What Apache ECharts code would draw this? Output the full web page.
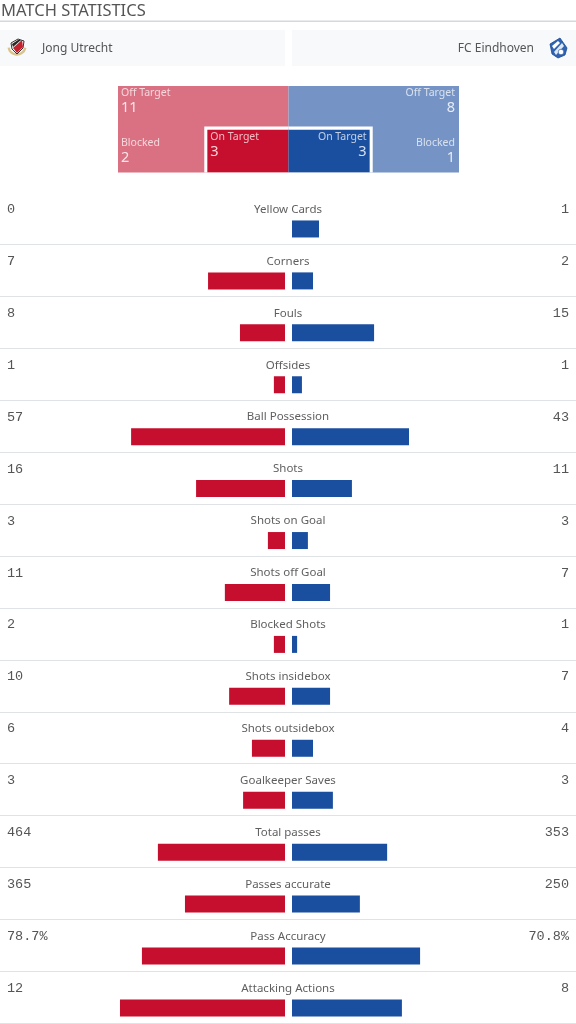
<!DOCTYPE html>
<html><head><meta charset="utf-8">
<style>html,body{margin:0;padding:0;background:#fff;overflow:hidden;height:1024px}#c{width:576px;height:1060px}</style>
<script src="https://cdn.jsdelivr.net/npm/echarts@6/dist/echarts.min.js"></script>
</head><body><div id="c"></div>
<script>
// ---- data ----
const title = 'MATCH STATISTICS';
const homeTeam = 'Jong Utrecht';
const awayTeam = 'FC Eindhoven';
const statNames = ['Yellow Cards','Corners','Fouls','Offsides','Ball Possession','Shots','Shots on Goal','Shots off Goal','Blocked Shots','Shots insidebox','Shots outsidebox','Goalkeeper Saves','Total passes','Passes accurate','Pass Accuracy','Attacking Actions'];
const homeValues = ['0','7','8','1','57','16','3','11','2','10','6','3','464','365','78.7%','12'];
const awayValues = ['1','2','15','1','43','11','3','7','1','7','4','3','353','250','70.8%','8'];
// bar length as % of the half row
const homeBars = [0,27.0,15.8,3.9,54.0,31.2,6.0,21.1,3.9,19.6,11.6,14.7,44.6,35.1,50.2,57.9];
const awayBars = [9.5,7.4,28.9,3.5,41.2,21.1,5.6,13.4,1.8,13.4,7.4,14.4,33.5,23.9,45.1,38.7];
// shot map
const zoneRows = ['Outer','Inner'];
const homeOffTarget = 11, homeBlocked = 2, homeOnTarget = 3;
const awayOffTarget = 8, awayBlocked = 1, awayOnTarget = 3;
const onTargetShare = 47.6;   // % of each side's half
const onTargetFrame = 49.4;

// ---- styles ----
const RED='#c60f2e', BLUE='#1a4fa0', PINK='#da7183', LBLUE='#7594c5';
const UI='"Noto Sans","Open Sans",sans-serif';
const MONO='"Liberation Mono",monospace';
const PITCH=51.93, N=statNames.length;
const rowsH=PITCH*N;
const hidden={show:false};
const grid=(l,r,t,h)=>({left:l,right:r,top:t,height:h});

function zoneLabel(name,val,left){
  return {show:true,formatter:`{a|${name}}\n{b|${val}}`,
    rich:{a:{fontFamily:UI,fontSize:10.5,color:'rgba(255,255,255,.72)',lineHeight:14,align:left?'left':'right'},
          b:{fontFamily:UI,fontSize:14.5,color:'rgba(255,255,255,.82)',lineHeight:16,align:left?'left':'right'}}};
}
const zoneY=(i)=>({type:'category',gridIndex:0,data:zoneRows,inverse:true,show:false,axisTick:hidden});

const option={
  animation:false,
  grid:[
    grid(118,117,86,86.5),                 // shot map
    grid(0,291,203,rowsH),                 // home bars
    grid(292,0,203,rowsH),                 // away bars
    grid(0,0,183.5,rowsH),                 // text rows
    grid(0,0,192.5,rowsH)                  // separators
  ],
  xAxis:[
    {gridIndex:0,type:'value',min:-100,max:100,show:false},
    {gridIndex:1,type:'value',min:0,max:100,inverse:true,show:false},
    {gridIndex:2,type:'value',min:0,max:100,show:false},
    {gridIndex:3,type:'value',min:0,max:1,show:false},
    {gridIndex:4,type:'value',min:0,max:1,show:false}
  ],
  yAxis:[
    zoneY(),zoneY(),zoneY(),
    {gridIndex:1,type:'category',data:statNames,inverse:true,show:false},
    {gridIndex:2,type:'category',data:statNames,inverse:true,show:false},
    {gridIndex:3,type:'category',data:homeValues,inverse:true,position:'left',axisLine:hidden,axisTick:hidden,
      axisLabel:{inside:true,margin:7,color:'#555',fontFamily:MONO,fontSize:13.5,hideOverlap:false,interval:0}},
    {gridIndex:3,type:'category',data:awayValues,inverse:true,position:'right',axisLine:hidden,axisTick:hidden,
      axisLabel:{inside:true,margin:7,color:'#555',fontFamily:MONO,fontSize:13.5,hideOverlap:false,interval:0}},
    {gridIndex:3,type:'category',data:statNames,inverse:true,position:'left',axisLine:hidden,axisTick:hidden,
      axisLabel:{inside:true,margin:288,align:'center',color:'#5f5f5f',fontFamily:UI,fontSize:11.5,hideOverlap:false,interval:0}},
    {gridIndex:4,type:'category',data:statNames,inverse:true,axisLine:hidden,axisTick:hidden,axisLabel:hidden,
      splitLine:{show:true,showMinLine:false,interval:0,lineStyle:{color:'#e0e3e6',width:1.2}}}
  ],
  series:[
    // outer zones
    {type:'bar',xAxisIndex:0,yAxisIndex:0,stack:'o',barWidth:'102%',itemStyle:{color:PINK},z:2,
     data:[{value:-100,label:{...zoneLabel('Off Target',homeOffTarget,true),position:'insideTopLeft',distance:0,offset:[3,0]}},
           {value:-100,label:{...zoneLabel('Blocked',homeBlocked,true),position:'insideLeft',distance:3}}]},
    {type:'bar',xAxisIndex:0,yAxisIndex:0,stack:'o',barWidth:'102%',itemStyle:{color:LBLUE},z:2,
     data:[{value:100,label:{...zoneLabel('Off Target',awayOffTarget,false),position:'insideTopRight',distance:0,offset:[-4,0]}},
           {value:100,label:{...zoneLabel('Blocked',awayBlocked,false),position:'insideRight',distance:4}}]},
    // white frame
    {type:'bar',xAxisIndex:0,yAxisIndex:1,stack:'f',barWidth:49,itemStyle:{color:'#fff'},z:3,data:['-',-onTargetFrame]},
    {type:'bar',xAxisIndex:0,yAxisIndex:1,stack:'f',barWidth:49,itemStyle:{color:'#fff'},z:3,data:['-',onTargetFrame]},
    // on target
    {type:'bar',xAxisIndex:0,yAxisIndex:2,stack:'t',barWidth:42.5,itemStyle:{color:RED},z:4,
     data:['-',{value:-onTargetShare,label:{...zoneLabel('On Target',homeOnTarget,true),position:'insideTopLeft',distance:0,offset:[3,0]}}]},
    {type:'bar',xAxisIndex:0,yAxisIndex:2,stack:'t',barWidth:42.5,itemStyle:{color:BLUE},z:4,
     data:['-',{value:onTargetShare,label:{...zoneLabel('On Target',awayOnTarget,false),position:'insideTopRight',distance:0,offset:[-3,0]}}]},
    // stat bars
    {type:'bar',xAxisIndex:1,yAxisIndex:3,barWidth:17,itemStyle:{color:RED},data:homeBars},
    {type:'bar',xAxisIndex:2,yAxisIndex:4,barWidth:17,itemStyle:{color:BLUE},data:awayBars}
  ],
  graphic:[
    {type:'text',left:1,top:3,style:{text:title,font:'16.5px '+UI,fill:'#555'}},
    {type:'rect',shape:{x:0,y:20.5,width:576,height:1.5},style:{fill:'#d5d8dc'}},
    {type:'rect',shape:{x:0,y:30,width:285,height:36},style:{fill:'#f7f9fb'}},
    {type:'rect',shape:{x:292,y:30,width:284,height:36},style:{fill:'#f7f9fb'}},
    {type:'text',left:42,top:43,style:{text:homeTeam,font:'12px '+UI,fill:'#555'}},
    {type:'text',right:42,top:43,style:{text:awayTeam,font:'12px '+UI,fill:'#555'}},
    {type:'group',children:[
      {type:'arc',shape:{cx:17,cy:46,r:8.5,startAngle:0.2,endAngle:2.95},style:{fill:'none',stroke:'#d9c48e',lineWidth:2.4}},
      {type:'polygon',shape:{points:[[11,43],[18,39],[24,41],[23,48],[17,54],[12,49]]},style:{fill:'#fff',stroke:'#3a3030',lineWidth:1}},
      {type:'polygon',shape:{points:[[13,48],[22,40],[23,47],[17,53]]},style:{fill:'#c4202e'}},
      {type:'polygon',shape:{points:[[12,44],[18,40],[21,40],[13,47]]},style:{fill:'#2b2525'}}
    ]},
    {type:'group',children:[
      {type:'polygon',shape:{points:[[550,44],[560,38],[567,48],[565,55],[558,58],[552,54]]},style:{fill:'#2f62b0',stroke:'#1c4a96',lineWidth:.8}},
      {type:'polygon',shape:{points:[[552,46],[558,41],[560,43],[554,49]]},style:{fill:'#fff'}},
      {type:'polygon',shape:{points:[[554,52],[562,43],[564,46],[556,55]]},style:{fill:'#dfe8f5'}},
      {type:'circle',shape:{cx:561,cy:52,r:2.8},style:{fill:'#fff',stroke:'#1c4a96',lineWidth:.6}}
    ]}
  ]
};
echarts.init(document.getElementById('c'),null,{renderer:'canvas'}).setOption(option);
</script></body></html>
